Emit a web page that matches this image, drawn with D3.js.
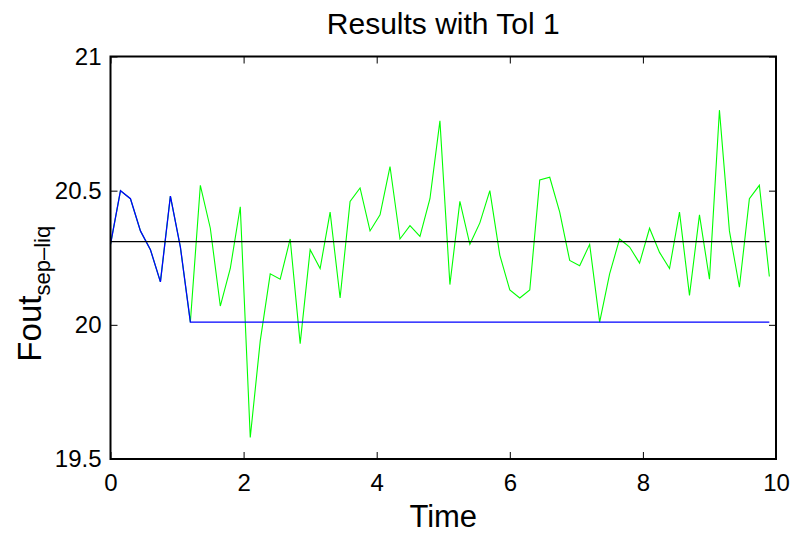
<!DOCTYPE html>
<html>
<head>
<meta charset="utf-8">
<script src="https://cdn.jsdelivr.net/npm/d3@7"></script>
<style>
	body { margin: 0; background: #fff; }
	svg { font-family: "Liberation Sans", Arial, Helvetica, sans-serif; }
	.axis path { display: none; }
	.axis line { stroke: #000; stroke-width: 1; }
	.axis text { font-size: 24px; fill: #000; }
</style>
</head>
<body>
<svg id="chart" width="795" height="534"></svg>
<script>
// DATA
var time = [0, 0.15, 0.3, 0.45, 0.6, 0.75, 0.9, 1.05, 1.2, 1.35, 1.5, 1.65, 1.8, 1.95,
	2.1, 2.25, 2.4, 2.55, 2.7, 2.85, 3.0, 3.15, 3.3, 3.45, 3.6, 3.75, 3.9,
	4.05, 4.2, 4.35, 4.5, 4.65, 4.8, 4.95, 5.1, 5.25, 5.4, 5.55, 5.7, 5.85,
	6.0, 6.15, 6.3, 6.45, 6.6, 6.75, 6.9, 7.05, 7.2, 7.35, 7.5, 7.65, 7.8, 7.95,
	8.1, 8.25, 8.4, 8.55, 8.7, 8.85, 9.0, 9.15, 9.3, 9.45, 9.6, 9.75, 9.9];

var measured = [20.30, 20.50, 20.47, 20.35, 20.28, 20.16, 20.48, 20.29, 20.01,
	20.52, 20.36, 20.07, 20.21, 20.44, 19.58, 19.94, 20.19, 20.17, 20.32, 19.93,
	20.28, 20.21, 20.42, 20.10, 20.46, 20.51, 20.35, 20.41, 20.59, 20.32, 20.37,
	20.33, 20.47, 20.76, 20.15, 20.46, 20.30, 20.38, 20.50, 20.26, 20.13, 20.10,
	20.13, 20.54, 20.55, 20.42, 20.24, 20.22, 20.30, 20.01, 20.19, 20.32, 20.29,
	20.23, 20.36, 20.27, 20.21, 20.42, 20.11, 20.41, 20.17, 20.80, 20.35, 20.14,
	20.47, 20.52, 20.18];

var filteredTime = [0, 0.15, 0.3, 0.45, 0.6, 0.75, 0.9, 1.05, 1.2, 9.9];
var filtered = [20.30, 20.50, 20.47, 20.35, 20.28, 20.16, 20.48, 20.29, 20.01, 20.01];

var refTime = [0, 9.9];
var refValue = [20.31, 20.31];

var xTicks = [0, 2, 4, 6, 8, 10];
var yTicks = [19.5, 20, 20.5, 21];

// LAYOUT
var margin = { top: 56.5, left: 110.5, right: 19, bottom: 75 };
var width = 795 - margin.left - margin.right;
var height = 534 - margin.top - margin.bottom;

var svg = d3.select('#chart');
var g = svg.append('g')
	.attr('transform', 'translate(' + margin.left + ',' + margin.top + ')');

var x = d3.scaleLinear().domain([0, 10]).range([0, width]);
var y = d3.scaleLinear().domain([19.5, 21]).range([height, 0]);

function pairs(xs, ys) {
	return xs.map(function(d, i) { return [d, ys[i]]; });
}

var line = d3.line()
	.x(function(d) { return x(d[0]); })
	.y(function(d) { return y(d[1]); });

// AXES (ticks point inward, mirrored on top/right)
g.append('g').attr('class', 'axis axis--x')
	.attr('transform', 'translate(0,' + height + ')')
	.call(d3.axisBottom(x).tickValues(xTicks).tickSize(-7).tickPadding(15).tickFormat(d3.format('d')));

g.append('g').attr('class', 'axis axis--x2')
	.call(d3.axisTop(x).tickValues(xTicks).tickSize(-7).tickFormat(''));

g.append('g').attr('class', 'axis axis--y')
	.call(d3.axisLeft(y).tickValues(yTicks).tickSize(-7).tickPadding(9).tickFormat(function(d) { return d; }));

g.append('g').attr('class', 'axis axis--y2')
	.attr('transform', 'translate(' + width + ',0)')
	.call(d3.axisRight(y).tickValues(yTicks).tickSize(-7).tickFormat(''));

// LINES
g.append('path')
	.datum(pairs(time, measured))
	.attr('fill', 'none')
	.attr('stroke', '#00ff00')
	.attr('stroke-width', 1.1)
	.attr('d', line);

g.append('path')
	.datum(pairs(filteredTime, filtered))
	.attr('fill', 'none')
	.attr('stroke', '#0000ff')
	.attr('stroke-width', 1.3)
	.attr('d', line);

g.append('path')
	.datum(pairs(refTime, refValue))
	.attr('fill', 'none')
	.attr('stroke', '#000')
	.attr('stroke-width', 1.2)
	.attr('d', line);

// BOX
g.append('rect')
	.attr('width', width)
	.attr('height', height)
	.attr('fill', 'none')
	.attr('stroke', '#000')
	.attr('stroke-width', 2);

// LABELS
svg.append('text')
	.attr('x', margin.left + width / 2)
	.attr('y', 34)
	.attr('text-anchor', 'middle')
	.style('font-size', '30px')
	.text('Results with Tol 1');

svg.append('text')
	.attr('x', margin.left + width / 2)
	.attr('y', 527)
	.attr('text-anchor', 'middle')
	.style('font-size', '31px')
	.text('Time');

var ylab = svg.append('text')
	.attr('transform', 'translate(41,' + (margin.top + height / 2 + 36) + ')rotate(-90)')
	.attr('text-anchor', 'middle')
	.style('font-size', '33px');
ylab.append('tspan').text('Fout');
ylab.append('tspan')
	.attr('dy', 9)
	.style('font-size', '22px')
	.text('sep\u2013liq');
</script>
</body>
</html>
